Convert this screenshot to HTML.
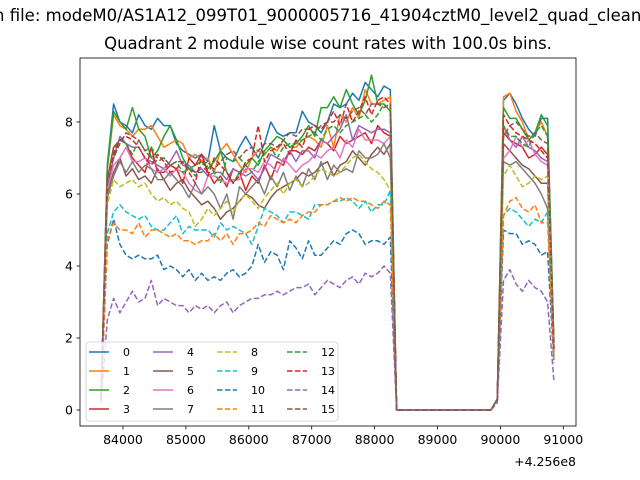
<!DOCTYPE html>
<html><head><meta charset="utf-8"><style>
html,body{margin:0;padding:0;background:#fff;}
svg{display:block;font-family:"DejaVu Sans","Liberation Sans",sans-serif;}
</style></head><body>
<svg id="chart" width="640" height="480" viewBox="0 0 640 480">
<text x="-6" y="21" font-size="16.5" fill="#000">n file: modeM0/AS1A12_099T01_9000005716_41904cztM0_level2_quad_clean.evt</text>
<text x="328" y="49" font-size="16.5" text-anchor="middle" fill="#000">Quadrant 2 module wise count rates with 100.0s bins.</text>
<g id="series"></g>
<rect x="80" y="58" width="496" height="368" fill="none" stroke="#000" stroke-width="0.8"/>
<g id="xaxis"></g>
<g id="yaxis"></g>
<text x="576" y="466" font-size="12.5" text-anchor="end">+4.256e8</text>
<g id="legend"></g>
</svg>
<script>
const GAP = [0,0,0,0,0,0,0,0,0,0,0,0,0,0,0,0];
const xTicks = [84000,85000,86000,87000,88000,89000,90000,91000];
const yTicks = [0,2,4,6,8];
const seriesNames = ["0","1","2","3","4","5","6","7","8","9","10","11","12","13","14","15"];
const tStart = 83650;
const tStep = 100;
const s0 = [0.3,6.8].concat([8.5,8.0,7.9,7.7,8.2,7.9,7.8,8.1,7.9,7.9,7.4,7.2,7.1,7.0,7.1,6.9,7.9,7.2,7.0,6.9,7.3,7.6,7.3,7.0,7.4,8.0,7.7,7.6,7.7,7.7,8.3,8.0,7.9,7.7,8.0,8.5,8.4,8.5,8.8,8.6,9.1,8.9,8.7,9.0,8.9],GAP,[0.3],[8.6,8.8,8.5,8.1,7.8,7.6,8.1,8.1],[1.8]);
const s1 = [0.3,6.7].concat([8.2,7.9,7.8,7.6,7.8,7.8,7.9,7.6,7.3,7.4,7.5,7.4,7.0,7.1,6.9,7.0,6.6,7.2,7.4,7.1,6.8,6.6,7.0,7.2,7.1,7.3,7.2,7.5,7.3,7.3,7.5,7.6,7.5,7.3,7.9,7.3,8.2,8.0,8.4,8.1,8.9,8.5,8.5,8.6,8.7],GAP,[0.3],[8.7,8.8,8.3,8.0,7.5,7.7,8.0,7.6],[1.6]);
const s2 = [0.3,6.7].concat([8.3,8.0,7.8,8.4,7.8,7.6,7.0,7.2,7.6,7.9,7.5,7.0,6.7,6.8,6.9,6.7,6.9,7.2,6.6,6.3,6.6,6.8,7.0,6.8,7.2,7.4,7.6,7.5,7.3,7.4,7.6,7.9,7.6,8.4,8.4,8.7,8.4,8.9,8.5,8.2,8.6,9.3,8.5,8.5,8.3],GAP,[0.3],[8.4,8.1,8.1,7.8,7.5,7.7,8.2,7.9],[1.9]);
const s3 = [0.3,6.4].concat([7.3,7.5,7.4,7.0,6.8,6.6,7.3,6.6,6.6,6.8,6.7,6.3,7.0,6.8,7.1,6.6,6.3,6.5,6.2,6.7,6.6,6.1,6.5,6.3,6.8,6.4,6.9,6.8,7.2,7.2,7.1,7.3,7.2,7.5,7.4,7.2,7.6,7.4,7.5,7.6,7.7,7.4,7.9,7.7,7.6],GAP,[0.3],[7.7,7.5,7.4,7.3,7.0,7.1,7.3,7.1],[1.7]);
const s4 = [0.3,6.2].concat([7.0,7.6,7.4,7.3,7.3,7.0,6.9,6.8,6.7,6.9,7.2,6.8,6.8,6.6,6.7,6.5,6.6,6.6,6.4,6.7,6.6,6.5,6.6,6.4,6.7,7.1,7.0,6.9,7.2,6.9,7.2,7.2,7.0,7.5,7.4,7.6,7.8,8.2,7.5,7.9,7.8,7.7,7.8,7.8,7.7],GAP,[0.3],[7.9,7.5,7.3,7.6,7.3,7.2,7.0,6.9],[1.6]);
const s5 = [0.3,6.0].concat([6.6,7.0,6.5,6.7,6.4,6.5,6.3,6.7,6.4,6.1,6.3,6.4,6.1,5.9,5.7,5.8,5.6,5.3,5.5,5.6,5.8,6.0,5.9,5.7,5.6,5.9,6.1,6.2,6.3,6.4,6.6,6.5,6.6,6.8,6.9,6.5,6.8,6.9,7.2,7.0,6.8,7.1,7.3,7.1,7.4],GAP,[0.3],[7.4,7.2,7.0,6.8,6.7,6.5,6.3,6.3],[1.5]);
const s6 = [0.3,6.1].concat([6.8,7.0,7.3,6.9,6.9,7.0,6.7,6.6,6.7,6.5,6.7,6.6,6.3,6.1,6.0,6.5,6.5,6.4,6.3,6.4,6.4,6.7,6.7,6.6,6.9,6.8,6.6,7.0,6.8,6.6,6.8,6.9,7.1,7.0,7.2,7.3,7.0,7.5,7.3,7.8,7.5,7.5,7.5,7.4,7.6],GAP,[0.3],[7.0,7.2,7.6,7.3,7.5,7.1,6.9,6.8],[1.6]);
const s7 = [0.3,5.9].concat([6.5,6.9,6.6,6.9,6.6,6.8,6.7,6.4,6.4,6.6,6.4,6.2,5.9,6.3,6.0,6.2,6.0,5.6,6.0,5.3,6.2,6.0,6.2,6.4,6.0,6.5,6.2,6.6,6.1,6.5,6.2,6.7,6.4,6.9,6.4,6.8,6.6,6.7,6.6,7.2,7.0,7.0,7.1,7.4,7.0],GAP,[0.3],[6.9,6.8,6.9,6.7,6.5,6.3,6.0,5.6],[1.5]);
const s8 = [0.3,5.7].concat([6.4,6.2,6.3,6.4,6.2,6.3,6.0,5.8,5.9,5.7,5.8,5.6,5.5,5.1,5.3,5.6,5.4,5.6,5.8,5.5,5.8,6.0,5.8,5.6,5.9,6.1,6.3,6.0,6.3,6.4,6.2,6.3,6.5,6.7,6.6,6.5,6.6,6.8,7.0,7.1,6.9,6.7,6.6,6.4,6.1],GAP,[0.3],[6.5,6.8,6.5,6.2,6.3,6.5,6.4,6.5],[1.5]);
const s9 = [0.3,4.9].concat([5.5,5.7,5.5,5.4,5.3,5.4,5.1,5.0,5.0,5.2,5.4,4.9,5.1,5.0,5.0,5.0,4.8,5.2,5.0,5.1,5.0,4.9,4.6,5.1,5.6,5.5,5.4,5.2,5.5,5.5,5.4,5.3,5.7,5.7,5.7,5.8,5.8,5.9,5.8,5.6,5.8,5.5,5.7,5.7,6.1],GAP,[0.3],[5.4,5.6,5.5,5.3,5.1,5.3,5.2,5.5],[1.4]);
const s10 = [0.3,4.6].concat([5.3,4.6,4.3,4.2,4.3,4.2,4.2,4.3,3.9,4.0,3.9,3.7,3.9,3.6,3.8,3.6,3.7,3.6,3.8,3.9,3.7,3.8,4.0,4.6,4.1,4.4,4.3,3.9,4.7,4.5,4.2,4.7,4.3,4.3,4.5,4.7,4.6,4.9,5.0,4.9,4.6,4.7,4.7,4.6,4.8],GAP,[0.3],[5.0,4.9,4.9,4.6,4.7,4.6,4.3,4.4],[1.3]);
const s11 = [0.3,4.7].concat([5.2,5.0,5.0,4.9,5.2,4.8,5.0,5.0,4.9,4.8,4.9,4.7,4.7,4.6,4.7,4.7,4.9,4.7,4.9,4.6,4.9,4.9,5.0,5.2,5.1,5.4,5.3,5.2,5.3,5.2,5.4,5.5,5.5,5.7,5.7,5.8,5.9,5.8,5.9,5.8,5.8,5.7,5.6,5.8,5.7],GAP,[0.3],[5.4,5.8,5.9,5.6,5.5,5.7,5.2,5.2],[1.4]);
const s12 = [0.3,6.4].concat([7.2,7.5,7.4,7.1,7.5,7.2,7.3,7.0,7.0,6.8,6.9,6.6,6.7,6.5,6.8,6.9,6.6,6.3,7.0,6.9,7.0,6.8,6.6,6.9,7.1,7.3,7.0,7.3,7.4,7.4,7.5,7.6,7.7,7.5,7.8,7.9,7.7,7.9,8.0,8.1,8.2,8.0,8.2,8.5,8.3],GAP,[0.3],[7.9,7.6,7.6,7.4,7.3,7.7,7.9,7.6],[1.8]);
const s13 = [0.3,6.3].concat([7.1,7.5,7.6,7.5,7.3,7.0,6.8,7.1,6.9,6.6,6.7,6.9,6.6,6.3,7.1,6.5,7.0,6.8,6.6,6.3,6.5,6.9,7.0,7.9,6.9,7.2,7.3,7.4,7.1,7.5,7.3,7.8,7.9,7.8,8.0,8.3,7.9,8.5,8.0,8.3,8.7,8.2,8.6,8.7,8.5],GAP,[0.3],[8.2,7.9,7.7,7.6,7.5,7.4,7.2,7.0],[1.7]);
const s14 = [0.2,2.5].concat([3.1,2.7,3.0,3.3,3.0,3.1,3.6,2.9,3.1,3.0,2.9,2.9,2.7,2.9,2.8,2.9,2.7,2.9,3.0,2.7,2.9,3.0,3.1,3.1,3.2,3.2,3.3,3.2,3.3,3.4,3.4,3.5,3.2,3.4,3.6,3.5,3.4,3.6,3.7,3.5,3.8,3.7,3.8,4.0,3.8],GAP,[0.2],[3.6,3.9,3.5,3.3,3.6,3.4,3.3,3.0],[0.8]);
const s15 = [0.3,6.3].concat([7.0,7.4,7.7,7.6,7.5,7.2,7.0,6.9,7.0,6.8,6.9,6.9,6.7,6.6,6.6,6.8,6.7,6.9,7.1,7.2,7.0,7.2,7.3,7.2,7.4,7.4,7.3,7.5,7.7,7.6,7.8,7.8,7.7,7.9,8.0,8.0,8.2,8.1,8.3,8.4,8.2,8.5,8.5,8.4,8.5],GAP,[0.3],[7.6,7.9,8.0,7.8,7.6,7.7,7.5,7.4],[1.8]);
const seriesValues = [s0,s1,s2,s3,s4,s5,s6,s7,s8,s9,s10,s11,s12,s13,s14,s15];

const colors = ["#1f77b4","#ff7f0e","#2ca02c","#d62728","#9467bd","#8c564b","#e377c2","#7f7f7f","#bcbd22","#17becf","#1f77b4","#ff7f0e","#2ca02c","#d62728","#9467bd","#8c564b"];
const NS = "http://www.w3.org/2000/svg";
function xScale(t){ return 123 + (t - 84000) * 0.0629; }
function yScale(v){ return 410 - v * 36; }
function mk(tag, attrs, parent){ const e = document.createElementNS(NS, tag); for (const k in attrs) e.setAttribute(k, attrs[k]); parent.appendChild(e); return e; }

const xg = document.getElementById('xaxis');
xTicks.forEach(t => {
  const x = xScale(t);
  const l = mk('line', {x1:x, x2:x, y1:426, y2:429.5, stroke:'#000', 'stroke-width':0.8}, xg);
  
  
  const tx = mk('text', {x:x, y:444, 'font-size':12.5, 'text-anchor':'middle'}, xg);
  tx.textContent = String(t);
  
  
});
const yg = document.getElementById('yaxis');
yTicks.forEach(v => {
  const y = yScale(v);
  const l = mk('line', {x1:76.5, x2:80, y1:y, y2:y, stroke:'#000', 'stroke-width':0.8}, yg);
  
  
  const tx = mk('text', {x:73, y:y+4.5, 'font-size':12.5, 'text-anchor':'end'}, yg);
  tx.textContent = String(v);
  
  
});

const sg = document.getElementById('series');
seriesValues.forEach((vals, si) => {
  const pts = vals.map((v, i) => xScale(tStart + i * tStep).toFixed(1) + ',' + yScale(v).toFixed(1)).join(' ');
  const attrs = {points:pts, fill:'none', stroke:colors[si], 'stroke-width':1.5, 'stroke-linejoin':'round'};
  if (si >= 8) attrs['stroke-dasharray'] = '5.5,2.4';
  const p = mk('polyline', attrs, sg);
  
  
});

const lg = document.getElementById('legend');
const box = mk('rect', {x:86, y:342, width:252, height:79, rx:3, fill:'#fff', 'fill-opacity':0.8, stroke:'#ccc', 'stroke-width':0.8}, lg);


const colX = [89, 153, 217, 287];
seriesNames.forEach((n, si) => {
  const c = Math.floor(si / 4), r = si % 4;
  const x = colX[c], y = 352 + r * 19;
  const g = mk('g', {}, lg);
  
  
  const la = {x1:x, x2:x+20, y1:y, y2:y, stroke:colors[si], 'stroke-width':1.5};
  if (si >= 8) la['stroke-dasharray'] = '5.5,2.4';
  mk('line', la, g);
  const tx = mk('text', {x:x+34, y:y+4, 'font-size':11}, g);
  tx.textContent = n;
});
</script>
</body></html>
